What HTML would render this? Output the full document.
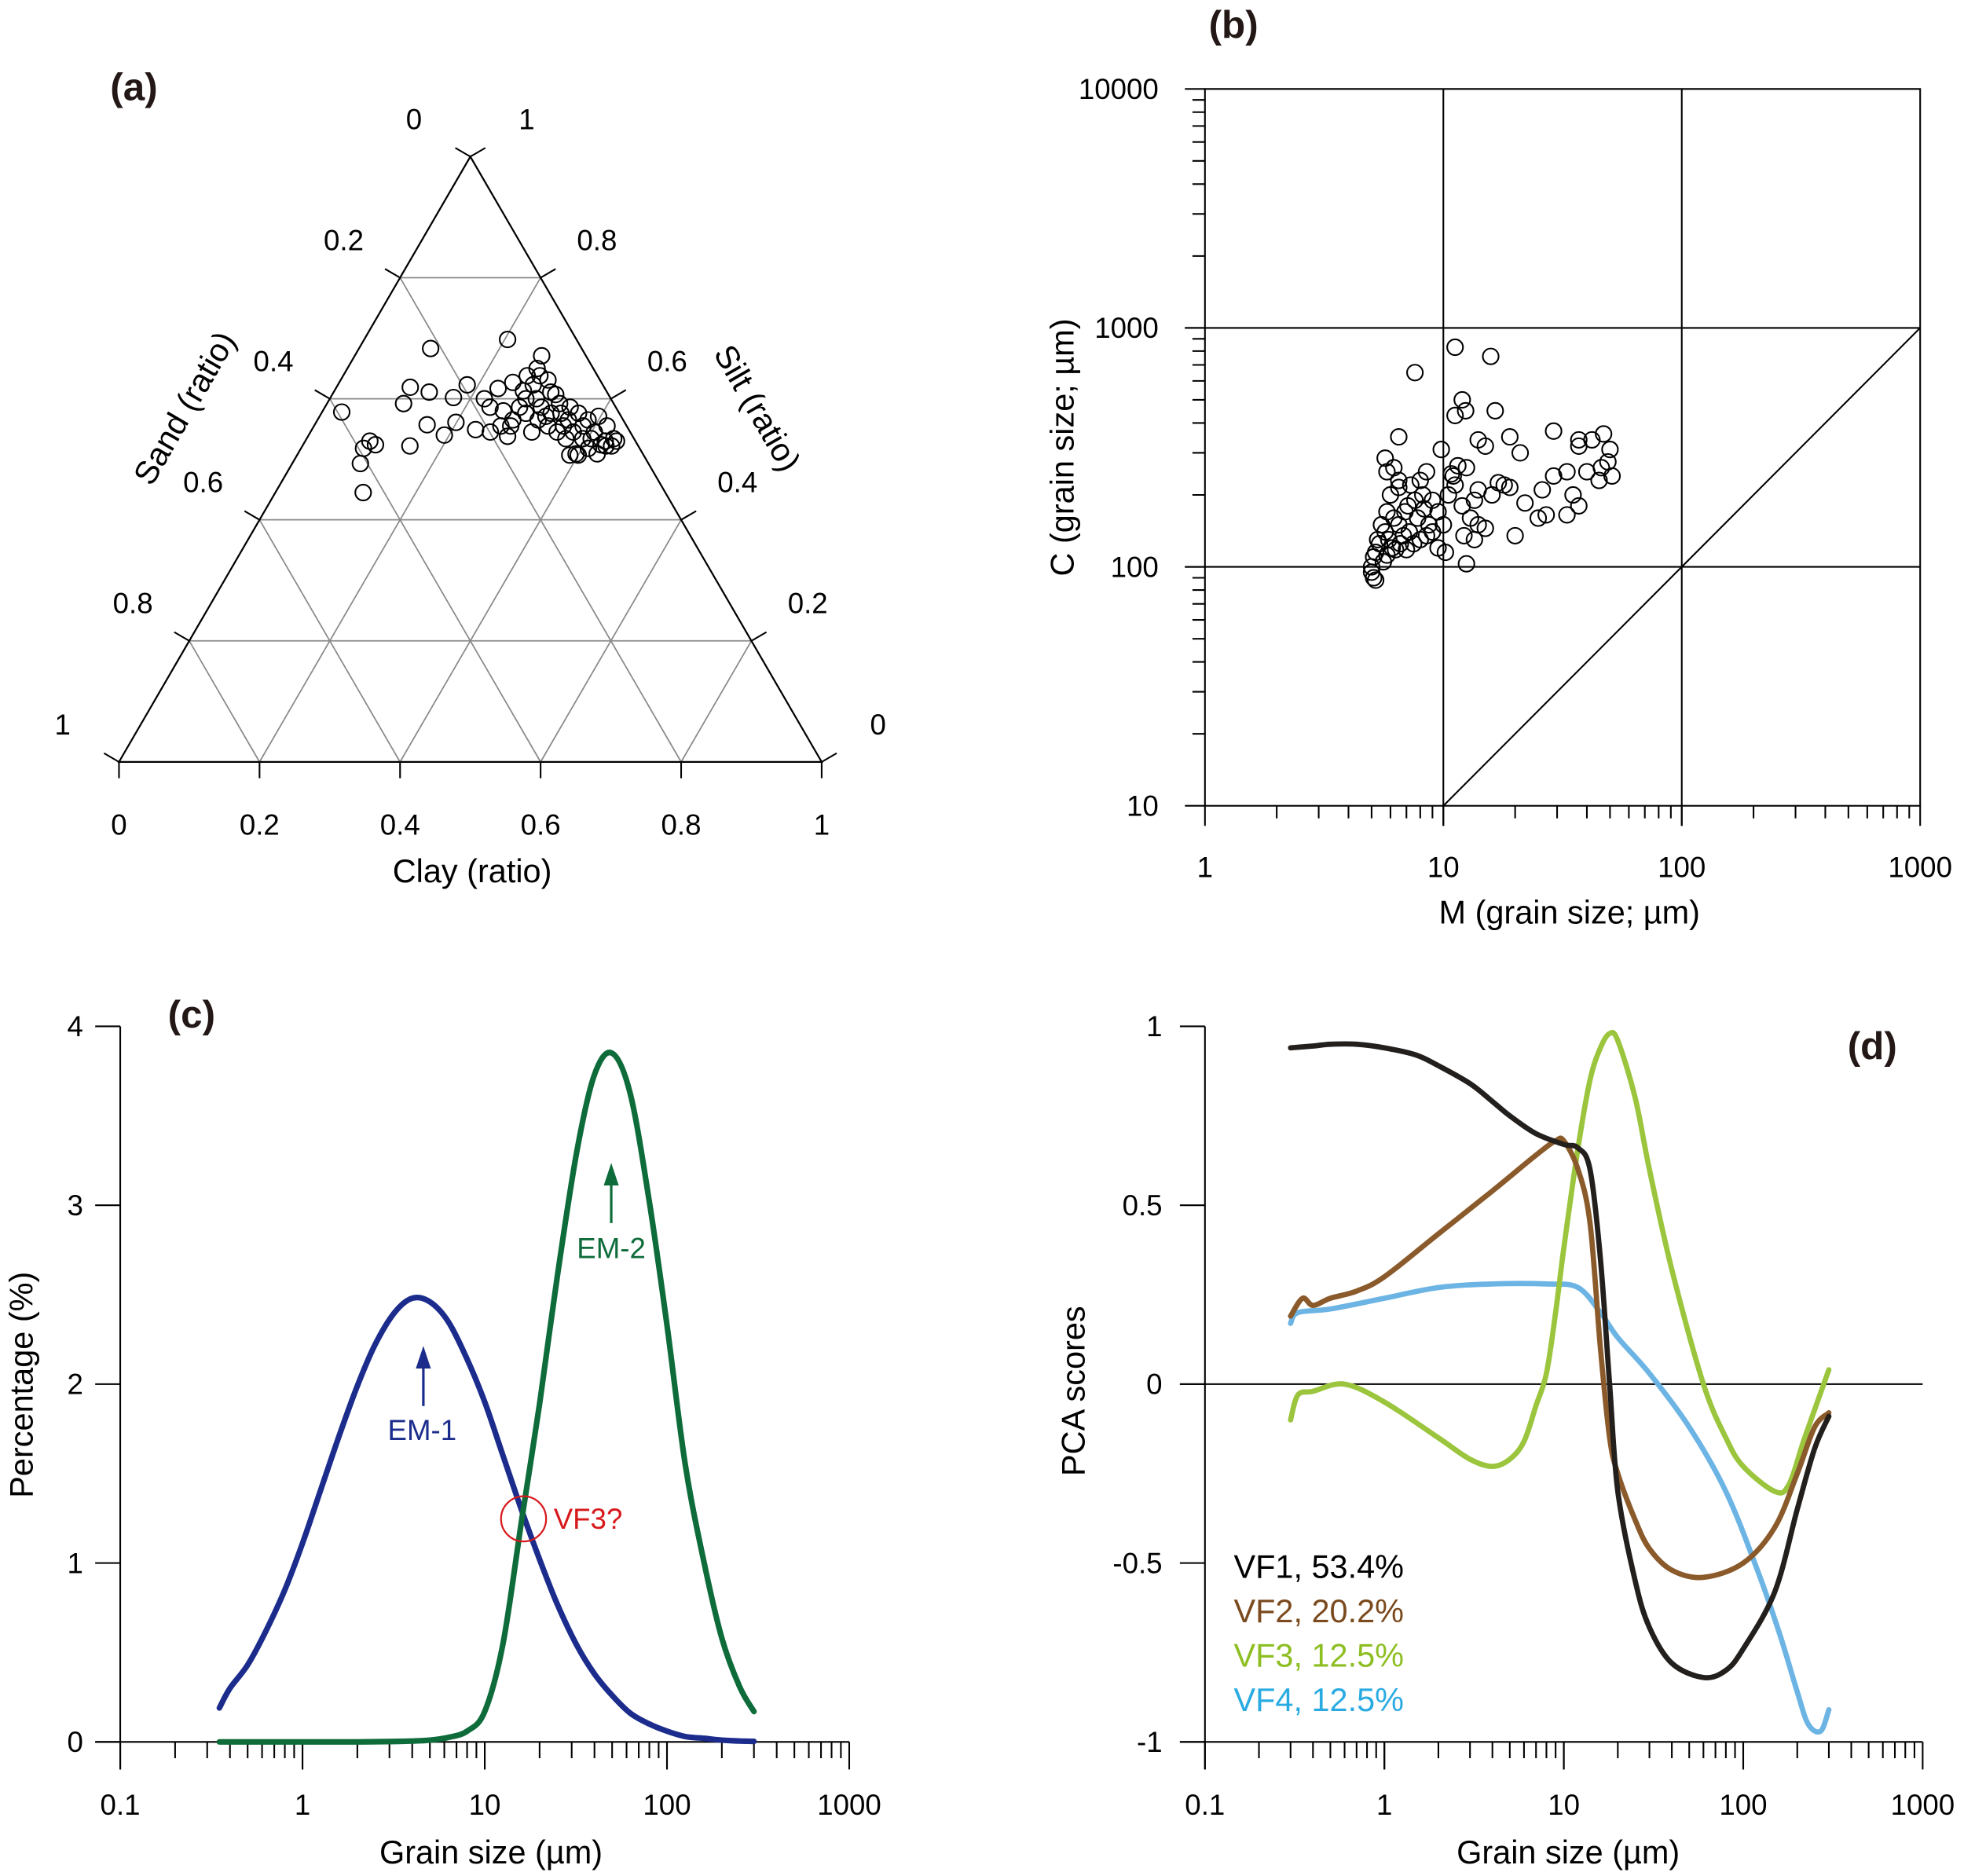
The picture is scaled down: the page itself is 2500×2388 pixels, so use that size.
<!DOCTYPE html>
<html><head><meta charset="utf-8"><style>
html,body{margin:0;padding:0;background:#fff;}
svg{display:block;}
text{font-family:"Liberation Sans",Arial,sans-serif;}
</style></head>
<body>
<svg id="fig" xmlns="http://www.w3.org/2000/svg" width="2500" height="2388" viewBox="0 0 1568 1497" preserveAspectRatio="none">
<rect x="0" y="0" width="1568" height="1497" fill="#fff"/>
<g id="pa"></g>
<g id="pb"></g>
<g id="pc"></g>
<g id="pd"></g>
</svg>
<script>
// ---------- Panel (a) data: ternary (clay, silt fractions) ----------
const taClay = [0.204,0.266,0.102,0.270,0.262,0.028,0.105,0.109,0.136,0.184,0.175,0.220,0.231,0.247,0.269,0.278,0.309,0.331,0.349,0.366,0.385,0.397,0.417,0.437,0.424,0.409,0.396,0.369,0.351,0.333,0.314,0.291,0.278,0.266,0.256,0.233,0.284,0.277,0.294,0.327,0.355,0.374,0.393,0.404,0.427,0.440,0.405,0.383,0.357,0.092,0.089,0.103,0.097,0.125,0.153,0.160,0.193,0.199,0.235,0.280,0.315,0.322,0.400,0.388,0.426,0.432,0.443,0.280,0.295,0.318,0.279,0.308,0.341,0.257];
const taSilt = [0.698,0.671,0.683,0.650,0.638,0.578,0.619,0.592,0.611,0.623,0.602,0.600,0.617,0.627,0.613,0.623,0.611,0.592,0.586,0.576,0.565,0.571,0.555,0.534,0.524,0.518,0.509,0.534,0.545,0.555,0.565,0.576,0.565,0.555,0.545,0.549,0.538,0.586,0.600,0.576,0.555,0.545,0.534,0.545,0.530,0.522,0.534,0.555,0.565,0.530,0.518,0.524,0.493,0.445,0.522,0.557,0.540,0.561,0.586,0.555,0.545,0.571,0.507,0.507,0.509,0.522,0.530,0.638,0.631,0.607,0.600,0.586,0.576,0.580];
const taTicks = [0,0.2,0.4,0.6,0.8,1];
const taTickLabels = ["0","0.2","0.4","0.6","0.8","1"];

// ---------- Panel (b) data: C-M ----------
const cmM = [11.2,15.8,7.6,12.4,12,16.5,11.2,14,19,15,21,29,37,42,47,50,49,46,45,51,37,40,33,29,35,37,33,27,25,20,14,16,18,19,12.5,11,11.2,10.5,12,13,14,15,13.5,12.2,12.5,10.2,9.5,10,9,8.7,8.5,8,7.5,7,7.2,7.8,8.3,9,9.5,8.5,8,7.3,6.5,6.5,6.2,6.5,5.7,5.8,6,5.8,6.2,6.5,6.8,5.5,5.7,5.9,6.1,5.4,5.2,5.1,5,5,5.1,5.2,5.6,5.8,6.3,6.6,6.9,7.6,8.2,9.8,10.8,11.5,13.5,17,22,26,5.3,7.1];
const cmC = [830,760,650,450,500,450,430,340,350,320,300,370,340,340,360,310,275,260,230,240,320,250,250,240,200,180,165,165,160,135,210,200,220,215,260,240,220,200,180,160,150,145,130,135,103,115,120,150,140,150,135,130,125,118,140,160,175,190,170,250,230,220,230,215,260,350,285,250,200,170,160,150,135,150,140,130,120,125,115,110,100,95,90,88,105,112,118,125,170,190,200,310,245,265,190,225,185,210,130,180];
const cmXTicks = [1,10,100,1000];
const cmXTickLabels = ["1","10","100","1000"];
const cmYTicks = [10,100,1000,10000];
const cmYTickLabels = ["10","100","1000","10000"];

// ---------- Panel (c) data ----------
const emX1 = [0.35,0.4,0.5,0.63,0.8,1,1.26,1.6,2,2.5,3.2,4,5,6.3,8,10,12.6,16,20,25,32,40,50,63,80,100,126,160,200,250,300];
const emY1 = [0.19,0.30,0.43,0.62,0.85,1.11,1.41,1.72,1.99,2.22,2.40,2.48,2.46,2.35,2.14,1.90,1.60,1.29,1.02,0.77,0.54,0.38,0.26,0.16,0.10,0.06,0.03,0.02,0.01,0.005,0.003];
const emX2 = [0.35,1,2,3,4,5,6.3,8,10,12.6,16,20,25,32,40,50,63,80,100,126,160,200,250,300];
const emY2 = [0,0,0,0.002,0.005,0.01,0.025,0.06,0.17,0.55,1.25,1.89,2.6,3.3,3.73,3.85,3.62,3.02,2.33,1.55,1.0,0.58,0.31,0.17];
const emXTicks = [0.1,1,10,100,1000];
const emXTickLabels = ["0.1","1","10","100","1000"];
const emYTicks = [0,1,2,3,4];
const emYTickLabels = ["0","1","2","3","4"];

// ---------- Panel (d) data ----------
const vf1X = [0.3,0.4,0.5,0.7,1,1.5,2,3,4,5,7,10,12,14,16,18,20,25,30,40,60,80,100,150,200,250,300];
const vf1Y = [0.94,0.945,0.95,0.95,0.94,0.92,0.89,0.84,0.79,0.75,0.70,0.67,0.66,0.60,0.35,0.0,-0.3,-0.55,-0.68,-0.78,-0.82,-0.80,-0.74,-0.58,-0.35,-0.18,-0.09];
const vf2X = [0.3,0.35,0.4,0.5,0.7,1,2,4,7,9,10,12,14,16,18,20,25,30,40,60,100,150,200,250,300];
const vf2Y = [0.19,0.24,0.22,0.24,0.26,0.30,0.42,0.54,0.64,0.68,0.68,0.60,0.45,0.10,-0.15,-0.25,-0.38,-0.46,-0.52,-0.54,-0.50,-0.40,-0.25,-0.12,-0.08];
const vf3X = [0.3,0.33,0.4,0.6,1,2,3,4,5,6,7,8,9,10,12,14,16,18,20,25,30,40,60,80,100,150,180,220,300];
const vf3Y = [-0.1,-0.03,-0.02,0.0,-0.05,-0.15,-0.21,-0.23,-0.21,-0.16,-0.06,0.03,0.2,0.38,0.66,0.85,0.94,0.98,0.96,0.80,0.60,0.32,0.0,-0.15,-0.23,-0.30,-0.28,-0.15,0.04];
const vf4X = [0.3,0.33,0.5,1,2,4,8,12,16,20,30,50,80,120,160,200,230,270,300];
const vf4Y = [0.17,0.20,0.21,0.24,0.27,0.28,0.28,0.27,0.20,0.13,0.03,-0.12,-0.30,-0.52,-0.70,-0.86,-0.95,-0.97,-0.91];
const pcaYTicks = [-1,-0.5,0,0.5,1];
const pcaYTickLabels = ["-1","-0.5","0","0.5","1"];
const pcaLegend = ["VF1, 53.4%","VF2, 20.2%","VF3, 12.5%","VF4, 12.5%"];

const NS = "http://www.w3.org/2000/svg";
function mk(parent, tag, attrs, txt){
  const e = document.createElementNS(NS, tag);
  for (const k in attrs) e.setAttribute(k, attrs[k]);
  if (txt !== undefined) e.textContent = txt;
  parent.appendChild(e);
  return e;
}
function smoothPath(pts){
  let d = "M" + pts[0][0].toFixed(2) + "," + pts[0][1].toFixed(2);
  for (let i=0;i<pts.length-1;i++){
    const p0 = pts[Math.max(0,i-1)], p1 = pts[i], p2 = pts[i+1], p3 = pts[Math.min(pts.length-1,i+2)];
    const c1x = p1[0]+(p2[0]-p0[0])/6, c1y = p1[1]+(p2[1]-p0[1])/6;
    const c2x = p2[0]-(p3[0]-p1[0])/6, c2y = p2[1]-(p3[1]-p1[1])/6;
    d += " C"+c1x.toFixed(2)+","+c1y.toFixed(2)+" "+c2x.toFixed(2)+","+c2y.toFixed(2)+" "+p2[0].toFixed(2)+","+p2[1].toFixed(2);
  }
  return d;
}

// ================= Panel (a) =================
(function(){
  const g = document.getElementById('pa');
  const X0=95, Y0=608, W=561, H=483;
  const P = (clay, silt) => [X0 + W*(clay + silt/2), Y0 - H*silt];
  const lbl = mk(g,'text',{x:88,y:80,'font-size':31,'font-weight':'bold',fill:'#231815'},'(a)');
   
  const grid = mk(g,'g',{stroke:'#8a8a8a','stroke-width':1.1,fill:'none'});
   
  [0.2,0.4,0.6,0.8].forEach(k=>{
    let a=P(0,k), b=P(1-k,k); mk(grid,'line',{x1:a[0],y1:a[1],x2:b[0],y2:b[1]});
    a=P(k,0); b=P(k,1-k); mk(grid,'line',{x1:a[0],y1:a[1],x2:b[0],y2:b[1]});
    a=P(1-k,0); b=P(0,1-k); mk(grid,'line',{x1:a[0],y1:a[1],x2:b[0],y2:b[1]});
  });
  const A=P(0,0), B=P(1,0), C=P(0,1);
  const tri = mk(g,'polygon',{points:`${A} ${B} ${C}`,fill:'none',stroke:'#000','stroke-width':1.4});
   
  const tk = mk(g,'g',{stroke:'#000','stroke-width':1.3});
  const tl = mk(g,'g',{'font-size':23,fill:'#000','text-anchor':'middle'});
  taTicks.forEach((k,i)=>{
    let p=P(k,0);
    mk(tk,'line',{x1:p[0],y1:p[1],x2:p[0],y2:p[1]+13});
    const t1 = mk(tl,'text',{x:p[0],y:p[1]+58},taTickLabels[i]);
     
    p=P(0,1-k);
    mk(tk,'line',{x1:p[0],y1:p[1],x2:p[0]-12,y2:p[1]-7});
    const t2 = mk(tl,'text',{x:p[0]-45,y:p[1]-22},taTickLabels[i]);
     
    p=P(1-k,k);
    mk(tk,'line',{x1:p[0],y1:p[1],x2:p[0]+12,y2:p[1]-7});
    const t3 = mk(tl,'text',{x:p[0]+45,y:p[1]-22},taTickLabels[i]);
     
  });
  let t = mk(g,'text',{x:377,y:704,'font-size':26,'text-anchor':'middle'},'Clay (ratio)');
   
  t = mk(g,'text',{x:0,y:0,'font-size':26,'text-anchor':'middle',transform:'translate(155,330) rotate(-60)'},'Sand (ratio)');
   
  t = mk(g,'text',{x:0,y:0,'font-size':26,'text-anchor':'middle',transform:'translate(597,330) rotate(60)'},'Silt (ratio)');
   
  const pts = mk(g,'g',{fill:'none',stroke:'#000','stroke-width':1.3});
   
  taClay.forEach((c,i)=>{
    const p = P(c, taSilt[i]);
    const el = mk(pts,'circle',{cx:p[0],cy:p[1],r:6.3});
    
    
  });
})();

// ================= Panel (b) =================
(function(){
  const g = document.getElementById('pb');
  const L=962, R=1533, T=71, Bt=643;
  const sx = v => L + (Math.log10(v)-0)*(R-L)/3;
  const sy = v => Bt - (Math.log10(v)-1)*(Bt-T)/3;
  let t = mk(g,'text',{x:965,y:30,'font-size':31,'font-weight':'bold',fill:'#231815'},'(b)');
   
  const fr = mk(g,'g',{stroke:'#000','stroke-width':1.3,fill:'none'});
   
  mk(fr,'rect',{x:L,y:T,width:R-L,height:Bt-T});
  [10,100].forEach(v=>mk(fr,'line',{x1:sx(v),y1:T,x2:sx(v),y2:Bt}));
  [100,1000].forEach(v=>mk(fr,'line',{x1:L,y1:sy(v),x2:R,y2:sy(v)}));
  mk(fr,'line',{x1:sx(10),y1:sy(10),x2:sx(1000),y2:sy(1000)});
  for (let d=0; d<3; d++){
    for (let m=1; m<=10; m++){
      const v = Math.pow(10,d)*m;
      const len = (m===1||m===10)?16:10;
      mk(fr,'line',{x1:sx(v),y1:Bt,x2:sx(v),y2:Bt+len});
      const w = Math.pow(10,d+1)*m;
      mk(fr,'line',{x1:L,y1:sy(w),x2:L-len,y2:sy(w)});
    }
  }
  const tl = mk(g,'g',{'font-size':23});
  cmXTicks.forEach((v,i)=>{
    const e = mk(tl,'text',{x:sx(v),y:700,'text-anchor':'middle'},cmXTickLabels[i]);
     
  });
  cmYTicks.forEach((v,i)=>{
    const e = mk(tl,'text',{x:925,y:sy(v)+8,'text-anchor':'end'},cmYTickLabels[i]);
     
  });
  t = mk(g,'text',{x:1253,y:737,'font-size':26,'text-anchor':'middle'},'M (grain size; µm)');
   
  t = mk(g,'text',{x:0,y:0,'font-size':26,'text-anchor':'middle',transform:'translate(857,357) rotate(-90)'},'C (grain size; µm)');
   
  const pts = mk(g,'g',{fill:'none',stroke:'#000','stroke-width':1.3});
   
  cmM.forEach((m,i)=>{
    const el = mk(pts,'circle',{cx:sx(m),cy:sy(cmC[i]),r:6.3});
    
    
  });
})();

function logXAxis(g, L, R, y0, ticks, labels, labelY){
  const sx = v => L + (Math.log10(v)+1)*(R-L)/4;
  const ax = mk(g,'g',{stroke:'#000','stroke-width':1.3});
  for (let d=-1; d<3; d++){
    for (let m=1; m<=10; m++){
      const v = Math.pow(10,d)*m;
      const len = (m===1||m===10)?22:13;
      mk(ax,'line',{x1:sx(v),y1:y0,x2:sx(v),y2:y0+len});
    }
  }
  ticks.forEach((v,i)=>{
    const e = mk(g,'text',{x:sx(v),y:labelY,'font-size':23,'text-anchor':'middle'},labels[i]);
     
  });
  return sx;
}

// ================= Panel (c) =================
(function(){
  const g = document.getElementById('pc');
  const L=96, R=678, y0=1390, ytop=819;
  const sy = v => y0 - v*(y0-ytop)/4;
  let t = mk(g,'text',{x:134,y:820,'font-size':31,'font-weight':'bold',fill:'#231815'},'(c)');
   
  const ax = mk(g,'g',{stroke:'#000','stroke-width':1.3});
   
  mk(ax,'line',{x1:L,y1:ytop,x2:L,y2:y0+22});
  mk(ax,'line',{x1:L-20,y1:y0,x2:R,y2:y0});
  emYTicks.forEach((v,i)=>{
    mk(ax,'line',{x1:L-20,y1:sy(v),x2:L,y2:sy(v)});
    const e = mk(g,'text',{x:60,y:sy(v)+8,'font-size':23,'text-anchor':'middle'},emYTickLabels[i]);
     
  });
  const sx = logXAxis(g, L, R, y0, emXTicks, emXTickLabels, 1448);
  t = mk(g,'text',{x:392,y:1487,'font-size':26,'text-anchor':'middle'},'Grain size (µm)');
   
  t = mk(g,'text',{x:0,y:0,'font-size':26,'text-anchor':'middle',transform:'translate(26,1105) rotate(-90)'},'Percentage (%)');
   
  const p1 = mk(g,'path',{d:smoothPath(emX1.map((x,i)=>[sx(x),sy(emY1[i])])),fill:'none',stroke:'#1B2C8C','stroke-width':4.5,'stroke-linecap':'round'});
   
  const p2 = mk(g,'path',{d:smoothPath(emX2.map((x,i)=>[sx(x),sy(emY2[i])])),fill:'none',stroke:'#0E6B3A','stroke-width':4.5,'stroke-linecap':'round'});
   
  const a1 = mk(g,'g',{});
   
  mk(a1,'line',{x1:338,y1:1122,x2:338,y2:1088,stroke:'#1B2C8C','stroke-width':2});
  mk(a1,'polygon',{points:'338,1074 332,1092 344,1092',fill:'#1B2C8C'});
  mk(a1,'text',{x:337,y:1149,'font-size':23,'text-anchor':'middle',fill:'#1B2C8C'},'EM-1');
  const a2 = mk(g,'g',{});
   
  mk(a2,'line',{x1:488,y1:976,x2:488,y2:942,stroke:'#0E6B3A','stroke-width':2});
  mk(a2,'polygon',{points:'488,928 482,946 494,946',fill:'#0E6B3A'});
  mk(a2,'text',{x:488,y:1004,'font-size':23,'text-anchor':'middle',fill:'#0E6B3A'},'EM-2');
  const a3 = mk(g,'g',{});
   
  mk(a3,'circle',{cx:418,cy:1212,r:18,fill:'none',stroke:'#D7191C','stroke-width':1.4});
  mk(a3,'text',{x:442,y:1220,'font-size':23,fill:'#D7191C'},'VF3?');
})();

// ================= Panel (d) =================
(function(){
  const g = document.getElementById('pd');
  const L=962, R=1535, ytop=819, ybot=1390;
  const sy = v => ybot - (v+1)*(ybot-ytop)/2;
  let t = mk(g,'text',{x:1475,y:845,'font-size':31,'font-weight':'bold',fill:'#231815'},'(d)');
   
  const ax = mk(g,'g',{stroke:'#000','stroke-width':1.3});
   
  mk(ax,'line',{x1:L,y1:ytop,x2:L,y2:ybot+22});
  mk(ax,'line',{x1:L-20,y1:ybot,x2:R,y2:ybot});
  mk(ax,'line',{x1:L-20,y1:sy(0),x2:R,y2:sy(0)});
  pcaYTicks.forEach((v,i)=>{
    mk(ax,'line',{x1:L-20,y1:sy(v),x2:L,y2:sy(v)});
    const e = mk(g,'text',{x:928,y:sy(v)+8,'font-size':23,'text-anchor':'end'},pcaYTickLabels[i]);
     
  });
  const sx = logXAxis(g, L, R, ybot, [0.1,1,10,100,1000], ["0.1","1","10","100","1000"], 1448);
  t = mk(g,'text',{x:1252,y:1487,'font-size':26,'text-anchor':'middle'},'Grain size (µm)');
   
  t = mk(g,'text',{x:0,y:0,'font-size':26,'text-anchor':'middle',transform:'translate(866,1110) rotate(-90)'},'PCA scores');
   
  const series = [[vf4X,vf4Y,'#6CB4E4','vf4-curve'],[vf3X,vf3Y,'#9BC53D','vf3-curve'],[vf2X,vf2Y,'#8B5A2B','vf2-curve'],[vf1X,vf1Y,'#231F1C','vf1-curve']];
  series.forEach(s=>{
    const p = mk(g,'path',{d:smoothPath(s[0].map((x,i)=>[sx(x),sy(s[1][i])])),fill:'none',stroke:s[2],'stroke-width':4.2,'stroke-linecap':'round'});
    
    
  });
  const cols = ['#000','#7B4A1E','#8DBE22','#29ABE2'];
  const lg = mk(g,'g',{'font-size':26});
   
  pcaLegend.forEach((s,i)=>{
    const e = mk(lg,'text',{x:985,y:1259+i*35.5,fill:cols[i]},s);
    
    
  });
})();
</script>
</body></html>
